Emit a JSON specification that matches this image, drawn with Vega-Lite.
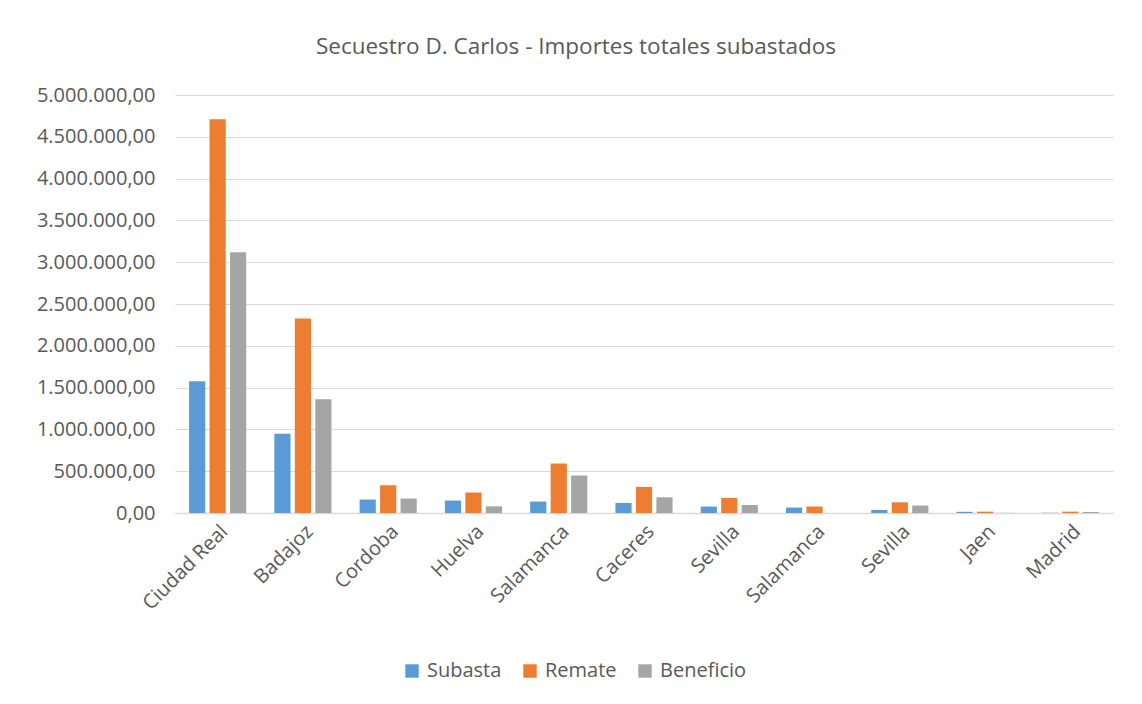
{
  "$schema": "https://vega.github.io/schema/vega-lite/v6.json",
  "width": 938,
  "height": 418,
  "autosize": {"type": "none"},
  "padding": {"left": 175, "top": 95, "right": 29, "bottom": 191},
  "background": "white",
  "config": {
    "locale": {"number": {"decimal": ",", "thousands": ".", "grouping": [3], "currency": ["", " €"]}},
    "font": "Open Sans",
    "view": {"stroke": null}
  },
  "title": {
    "text": "Secuestro D. Carlos - Importes totales subastados",
    "fontSize": 22.5,
    "font": "Open Sans",
    "fontWeight": "normal",
    "color": "#595959",
    "anchor": "middle",
    "dx": -68,
    "offset": 27
  },
  "data": {
    "values": [
      {"pos": 1, "provincia": "Ciudad Real", "serie": "Subasta", "valor": 1577000},
      {"pos": 1, "provincia": "Ciudad Real", "serie": "Remate", "valor": 4709000},
      {"pos": 1, "provincia": "Ciudad Real", "serie": "Beneficio", "valor": 3119000},
      {"pos": 2, "provincia": "Badajoz", "serie": "Subasta", "valor": 947000},
      {"pos": 2, "provincia": "Badajoz", "serie": "Remate", "valor": 2328000},
      {"pos": 2, "provincia": "Badajoz", "serie": "Beneficio", "valor": 1361000},
      {"pos": 3, "provincia": "Cordoba", "serie": "Subasta", "valor": 161000},
      {"pos": 3, "provincia": "Cordoba", "serie": "Remate", "valor": 332000},
      {"pos": 3, "provincia": "Cordoba", "serie": "Beneficio", "valor": 173000},
      {"pos": 4, "provincia": "Huelva", "serie": "Subasta", "valor": 149000},
      {"pos": 4, "provincia": "Huelva", "serie": "Remate", "valor": 245000},
      {"pos": 4, "provincia": "Huelva", "serie": "Beneficio", "valor": 80000},
      {"pos": 5, "provincia": "Salamanca", "serie": "Subasta", "valor": 137000},
      {"pos": 5, "provincia": "Salamanca", "serie": "Remate", "valor": 592000},
      {"pos": 5, "provincia": "Salamanca", "serie": "Beneficio", "valor": 448000},
      {"pos": 6, "provincia": "Caceres", "serie": "Subasta", "valor": 120000},
      {"pos": 6, "provincia": "Caceres", "serie": "Remate", "valor": 312000},
      {"pos": 6, "provincia": "Caceres", "serie": "Beneficio", "valor": 188000},
      {"pos": 7, "provincia": "Sevilla", "serie": "Subasta", "valor": 77000},
      {"pos": 7, "provincia": "Sevilla", "serie": "Remate", "valor": 180000},
      {"pos": 7, "provincia": "Sevilla", "serie": "Beneficio", "valor": 96000},
      {"pos": 8, "provincia": "Salamanca", "serie": "Subasta", "valor": 65000},
      {"pos": 8, "provincia": "Salamanca", "serie": "Remate", "valor": 77000},
      {"pos": 8, "provincia": "Salamanca", "serie": "Beneficio", "valor": 0},
      {"pos": 9, "provincia": "Sevilla", "serie": "Subasta", "valor": 36000},
      {"pos": 9, "provincia": "Sevilla", "serie": "Remate", "valor": 128000},
      {"pos": 9, "provincia": "Sevilla", "serie": "Beneficio", "valor": 89000},
      {"pos": 10, "provincia": "Jaen", "serie": "Subasta", "valor": 14000},
      {"pos": 10, "provincia": "Jaen", "serie": "Remate", "valor": 16000},
      {"pos": 10, "provincia": "Jaen", "serie": "Beneficio", "valor": 2000},
      {"pos": 11, "provincia": "Madrid", "serie": "Subasta", "valor": 3000},
      {"pos": 11, "provincia": "Madrid", "serie": "Remate", "valor": 16000},
      {"pos": 11, "provincia": "Madrid", "serie": "Beneficio", "valor": 12000}
    ]
  },
  "mark": {"type": "bar"},
  "encoding": {
    "x": {
      "field": "pos",
      "type": "ordinal",
      "scale": {"paddingInner": 0.33, "paddingOuter": 0.165},
      "axis": {
        "title": null,
        "labelExpr": "['Ciudad Real','Badajoz','Cordoba','Huelva','Salamanca','Caceres','Sevilla','Salamanca','Sevilla','Jaen','Madrid'][datum.value - 1]",
        "labelAngle": -45,
        "labelFontSize": 20,
        "labelColor": "#595959",
        "labelPadding": 8,
        "labelOverlap": false,
        "ticks": false,
        "domainColor": "#d9d9d9",
        "domainWidth": 1.5
      }
    },
    "xOffset": {
      "field": "serie",
      "type": "nominal",
      "sort": ["Subasta", "Remate", "Beneficio"],
      "scale": {"paddingInner": 0.21}
    },
    "y": {
      "field": "valor",
      "type": "quantitative",
      "scale": {"domain": [0, 5000000]},
      "axis": {
        "title": null,
        "format": ",.2f",
        "values": [0, 500000, 1000000, 1500000, 2000000, 2500000, 3000000, 3500000, 4000000, 4500000, 5000000],
        "labelOverlap": false,
        "labelFontSize": 20,
        "labelColor": "#595959",
        "labelPadding": 20,
        "ticks": false,
        "domain": false,
        "gridColor": "#d9d9d9",
        "gridWidth": 1.2
      }
    },
    "color": {
      "field": "serie",
      "type": "nominal",
      "sort": ["Subasta", "Remate", "Beneficio"],
      "scale": {"domain": ["Subasta", "Remate", "Beneficio"], "range": ["#5B9BD5", "#ED7D31", "#A5A5A5"]},
      "legend": {
        "title": null,
        "orient": "none",
        "direction": "horizontal",
        "legendX": 227,
        "legendY": 566,
        "symbolType": "square",
        "symbolSize": 180,
        "symbolStrokeWidth": 0,
        "labelFontSize": 20,
        "labelColor": "#595959",
        "labelOffset": 5,
        "columnPadding": 18
      }
    }
  }
}
